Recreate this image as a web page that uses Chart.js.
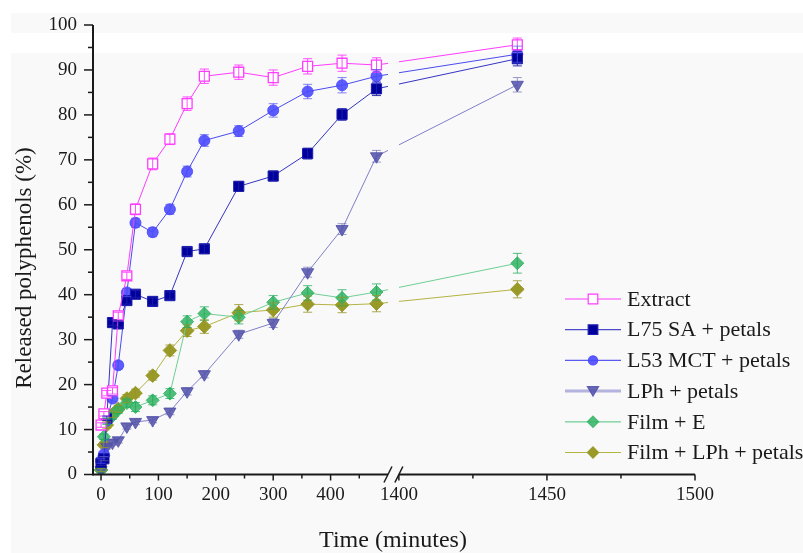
<!DOCTYPE html>
<html>
<head>
<meta charset="utf-8">
<script src="https://cdn.jsdelivr.net/npm/chart.js@4.4.0/dist/chart.umd.min.js"></script>
<style>
  html, body { margin: 0; padding: 0; background: #fff; }
  canvas { display: block; }
</style>
</head>
<body>
<canvas id="chart" width="803" height="553"></canvas>
<script>
// sampling times (minutes)
const times = [0, 5, 10, 20, 30, 45, 60, 90, 120, 150, 180, 240, 300, 360, 420, 480, 1440];

// released polyphenols (%)
const extract = [11.0, 13.5, 18.1, 18.6, 35.3, 44.2, 59.0, 69.1, 74.6, 82.5, 88.6, 89.5, 88.3, 90.8, 91.5, 91.1, 95.6];
const l75sa   = [2.5, 3.5, 12.5, 33.8, 33.5, 38.7, 40.1, 38.5, 39.8, 49.6, 50.2, 64.1, 66.4, 71.4, 80.1, 85.8, 92.5];
const l53mct  = [3.0, 4.5, 12.0, 16.9, 24.3, 40.5, 56.0, 53.9, 59.0, 67.4, 74.3, 76.4, 81.0, 85.2, 86.6, 88.6, 93.5];
const lph     = [1.0, 3.5, 6.2, 7.1, 7.6, 10.7, 11.7, 12.1, 14.0, 18.5, 22.3, 31.2, 33.7, 45.0, 54.6, 70.8, 86.7];
const filmE   = [1.0, 8.4, 11.8, 13.0, 14.4, 15.9, 15.0, 16.5, 18.0, 34.0, 35.8, 35.0, 38.3, 40.4, 39.3, 40.6, 47.0];
const filmLph = [1.0, 6.6, 11.0, 13.4, 14.6, 16.9, 18.1, 22.0, 27.6, 32.0, 32.9, 36.0, 36.6, 37.9, 37.7, 38.0, 41.2];

// error bars (+/-)
const extractErr = [0.5, 0.5, 0.6, 0.7, 0.8, 0.8, 1.2, 1.3, 1.2, 1.5, 1.6, 1.6, 1.7, 1.7, 1.8, 1.6, 1.5];
const l75saErr   = [0.5, 0.5, 0.5, 0.6, 0.7, 0.8, 0.8, 0.8, 0.8, 0.9, 1.0, 1.1, 1.1, 1.2, 1.3, 1.5, 1.6];
const l53mctErr  = [0.5, 0.5, 0.6, 0.6, 0.8, 0.9, 1.0, 1.0, 1.1, 1.2, 1.3, 1.2, 1.5, 1.6, 1.7, 1.5, 1.8];
const lphErr     = [0.3, 0.4, 0.5, 0.6, 0.6, 0.6, 0.6, 0.6, 0.7, 0.8, 0.8, 0.9, 1.0, 1.1, 1.2, 1.3, 1.6];
const filmEErr   = [0.4, 0.6, 0.7, 0.7, 0.8, 0.9, 1.0, 1.0, 1.1, 1.3, 1.5, 1.5, 1.5, 1.6, 1.8, 1.8, 2.2];
const filmLphErr = [0.3, 0.6, 0.7, 0.7, 0.8, 0.9, 0.9, 1.0, 1.2, 1.3, 1.5, 1.8, 1.6, 1.8, 1.7, 1.8, 1.9];

const xTickLabels = [0, 100, 200, 300, 400, 1400, 1450, 1500];
const xMinorTicks = [50, 150, 250, 350, 450, 1425, 1475];

// broken x axis: 0..500 at normal scale, then 1400..1500 stretched
const BREAK_END = 500;
const RIGHT_START = 1400;
const RIGHT_OFFSET = 519;
const RIGHT_STRETCH = 5.16;
function toAxis(t) {
    return t <= BREAK_END ? t : RIGHT_OFFSET + (t - RIGHT_START) * RIGHT_STRETCH;
}
function pts(values) {
    return values.map((v, i) => ({ x: toAxis(times[i]), y: v }));
}

const FONT = "'Liberation Serif', 'Times New Roman', serif";
const INK = '#1a1a1a';
const BG = '#f9f9f9';

function paintBackground(ctx, w, h) {
    ctx.fillStyle = '#ffffff';
    ctx.fillRect(0, 0, w, h);
    ctx.fillStyle = BG;
    ctx.fillRect(11, 13, w - 11, h - 13);
    ctx.fillStyle = '#ffffff';
    ctx.fillRect(11, 33, w - 11, 20);
}

function drawMarker(ctx, style, x, y, r, fill, stroke, lw) {
    ctx.beginPath();
    if (style === 'rect') {
        ctx.rect(x - r, y - r, 2 * r, 2 * r);
    } else if (style === 'circle') {
        ctx.arc(x, y, r, 0, Math.PI * 2);
    } else if (style === 'triangleDown') {
        ctx.moveTo(x - r, y - r * 0.8);
        ctx.lineTo(x + r, y - r * 0.8);
        ctx.lineTo(x, y + r * 0.9);
        ctx.closePath();
    } else {
        ctx.moveTo(x, y - r);
        ctx.lineTo(x + r, y);
        ctx.lineTo(x, y + r);
        ctx.lineTo(x - r, y);
        ctx.closePath();
    }
    ctx.fillStyle = fill;
    ctx.fill();
    ctx.lineWidth = lw;
    ctx.strokeStyle = stroke;
    ctx.stroke();
}

const series = [
    { label: 'Extract', data: extract, err: extractErr, line: '#ff3cff', errColor: 'rgba(255,60,255,0.9)',
      style: 'rect', radius: 7, fill: '#ffffff', stroke: '#ff3cff', legendLine: '#ff3cff', legendWidth: 1.2, legendMarker: 'rect', legendR: 4.8 },
    { label: 'L75 SA + petals', data: l75sa, err: l75saErr, line: '#3434c4', errColor: 'rgba(30,30,170,0.9)',
      style: 'rect', radius: 7.2, fill: '#00009c', stroke: '#1c1cb0', legendLine: '#4a4ac8', legendWidth: 1.2, legendMarker: 'rect', legendR: 4.8 },
    { label: 'L53 MCT + petals', data: l53mct, err: l53mctErr, line: '#4b4bf0', errColor: 'rgba(80,80,240,0.7)',
      style: 'circle', radius: 5.5, fill: 'rgba(74,74,255,0.9)', stroke: 'rgba(74,74,255,0.9)', legendLine: '#5a5af0', legendWidth: 1.2, legendMarker: 'circle', legendR: 4.6 },
    { label: 'LPh + petals', data: lph, err: lphErr, line: '#8080c8', errColor: 'rgba(90,90,170,0.6)',
      style: 'triangle', radius: 7, fill: 'rgba(80,80,170,0.85)', stroke: 'rgba(80,80,170,0.85)', legendLine: 'rgba(150,150,210,0.7)', legendWidth: 3, legendMarker: 'triangleDown', legendR: 5.6 },
    { label: 'Film + E', data: filmE, err: filmEErr, line: '#6fcf95', errColor: 'rgba(30,170,90,0.75)',
      style: 'rectRot', radius: 6.5, fill: 'rgba(50,180,100,0.85)', stroke: 'rgba(50,180,100,0.85)', legendLine: '#6fcf95', legendWidth: 1.2, legendMarker: 'diamond', legendR: 5.6 },
    { label: 'Film + LPh + petals', data: filmLph, err: filmLphErr, line: '#b4b444', errColor: 'rgba(150,150,40,0.8)',
      style: 'rectRot', radius: 6.8, fill: '#9a9a28', stroke: '#9a9a28', legendLine: '#b4b444', legendWidth: 1.2, legendMarker: 'diamond', legendR: 5.6 }
];

// background bands + break gap + error bars + axes + legend
const decor = {
    id: 'decor',
    beforeDraw(chart) {
        paintBackground(chart.ctx, chart.width, chart.height);
    },
    afterDatasetsDraw(chart) {
        const ctx = chart.ctx;
        const xs = chart.scales.x, ys = chart.scales.y;
        const area = chart.chartArea;
        // clear the data lines inside the axis break
        const g0 = xs.getPixelForValue(BREAK_END), g1 = xs.getPixelForValue(RIGHT_OFFSET);
        ctx.save();
        ctx.beginPath();
        ctx.rect(g0, area.top - 20, g1 - g0, area.bottom - area.top + 18);
        ctx.clip();
        paintBackground(ctx, chart.width, chart.height);
        ctx.restore();
        // error bars
        ctx.save();
        ctx.lineWidth = 1;
        chart.data.datasets.forEach((ds, di) => {
            const meta = chart.getDatasetMeta(di);
            ctx.strokeStyle = ds.errColor;
            meta.data.forEach((p, i) => {
                const v = ds.data[i].y, e = ds.err[i];
                const yt = ys.getPixelForValue(v + e), yb = ys.getPixelForValue(v - e);
                ctx.beginPath();
                ctx.moveTo(p.x, yt); ctx.lineTo(p.x, yb);
                ctx.moveTo(p.x - 4.5, yt); ctx.lineTo(p.x + 4.5, yt);
                ctx.moveTo(p.x - 4.5, yb); ctx.lineTo(p.x + 4.5, yb);
                ctx.stroke();
            });
        });
        ctx.restore();
    },
    afterDraw(chart) {
        const ctx = chart.ctx;
        const xs = chart.scales.x, ys = chart.scales.y;
        const area = chart.chartArea;
        const yb = area.bottom, xl = area.left;
        ctx.save();
        ctx.strokeStyle = INK;
        // y axis
        ctx.lineWidth = 2;
        ctx.beginPath();
        ctx.moveTo(xl, yb + 1); ctx.lineTo(xl, area.top);
        ctx.stroke();
        ctx.lineWidth = 1.5;
        for (let v = 0; v <= 100; v += 5) {
            const y = ys.getPixelForValue(v);
            ctx.beginPath();
            ctx.moveTo(xl, y); ctx.lineTo(xl - (v % 10 === 0 ? 9 : 5), y);
            ctx.stroke();
        }
        // x axis with break
        const b0 = xs.getPixelForValue(BREAK_END), b1 = xs.getPixelForValue(RIGHT_OFFSET);
        ctx.lineWidth = 2;
        ctx.beginPath();
        ctx.moveTo(xl, yb); ctx.lineTo(b0, yb);
        ctx.moveTo(b1, yb); ctx.lineTo(area.right, yb);
        ctx.stroke();
        ctx.lineWidth = 1.5;
        [b0, b1].forEach(bx => {
            ctx.beginPath();
            ctx.moveTo(bx - 4, yb + 8); ctx.lineTo(bx + 4, yb - 8);
            ctx.stroke();
        });
        xTickLabels.forEach(t => {
            const x = xs.getPixelForValue(toAxis(t));
            ctx.beginPath(); ctx.moveTo(x, yb); ctx.lineTo(x, yb + 6); ctx.stroke();
        });
        xMinorTicks.forEach(t => {
            const x = xs.getPixelForValue(toAxis(t));
            ctx.beginPath(); ctx.moveTo(x, yb); ctx.lineTo(x, yb + 4); ctx.stroke();
        });
        // axis titles
        ctx.fillStyle = INK;
        ctx.font = '24px ' + FONT;
        ctx.textAlign = 'center';
        ctx.textBaseline = 'middle';
        ctx.fillText('Time (minutes)', 393, 541);
        ctx.font = '23px ' + FONT;
        ctx.translate(25, 268);
        ctx.rotate(-Math.PI / 2);
        ctx.fillText('Released polyphenols (%)', 0, 0);
        ctx.restore();

        // legend
        ctx.save();
        ctx.font = '22px ' + FONT;
        ctx.textAlign = 'left';
        ctx.textBaseline = 'middle';
        chart.data.datasets.forEach((ds, i) => {
            const y = 299 + i * 30.7;
            ctx.strokeStyle = ds.legendLine;
            ctx.lineWidth = ds.legendWidth;
            ctx.beginPath(); ctx.moveTo(565, y); ctx.lineTo(621, y); ctx.stroke();
            drawMarker(ctx, ds.legendMarker, 593, y, ds.legendR, ds.pointBackgroundColor, ds.pointBorderColor, 1.2);
            ctx.fillStyle = INK;
            ctx.fillText(ds.label, 627, y + 1);
        });
        ctx.restore();
    }
};

new Chart(document.getElementById('chart').getContext('2d'), {
    type: 'line',
    data: {
        datasets: series.map(s => ({
            label: s.label,
            data: pts(s.data),
            err: s.err,
            errColor: s.errColor,
            legendLine: s.legendLine,
            legendWidth: s.legendWidth,
            legendMarker: s.legendMarker,
            legendR: s.legendR,
            borderColor: s.line,
            borderWidth: 1,
            pointStyle: s.style,
            pointRotation: s.style === 'triangle' ? 180 : 0,
            pointRadius: s.radius,
            pointBackgroundColor: s.fill,
            pointBorderColor: s.stroke,
            pointBorderWidth: s.style === 'rect' && s.label === 'Extract' ? 1.3 : 1,
            tension: 0,
            fill: false
        }))
    },
    options: {
        responsive: false,
        animation: false,
        layout: { padding: { top: 25, right: 108, bottom: 0, left: 0 } },
        plugins: { legend: { display: false }, tooltip: { enabled: false } },
        scales: {
            x: {
                type: 'linear',
                min: -14,
                max: toAxis(1500),
                afterFit: s => { s.height = 78.5; },
                afterBuildTicks: s => { s.ticks = xTickLabels.map(t => ({ value: toAxis(t) })); },
                ticks: {
                    autoSkip: false,
                    maxRotation: 0,
                    padding: 3,
                    color: INK,
                    font: { family: FONT, size: 19 },
                    callback: (v, i) => String(xTickLabels[i])
                },
                grid: { drawOnChartArea: false, color: 'transparent', tickLength: 6 },
                border: { display: false }
            },
            y: {
                min: 0,
                max: 100,
                afterFit: s => { s.width = 93; },
                ticks: { stepSize: 10, padding: 7, color: INK, font: { family: FONT, size: 19 } },
                grid: { drawOnChartArea: false, color: 'transparent', tickLength: 9 },
                border: { display: false }
            }
        }
    },
    plugins: [decor]
});
</script>
</body>
</html>
